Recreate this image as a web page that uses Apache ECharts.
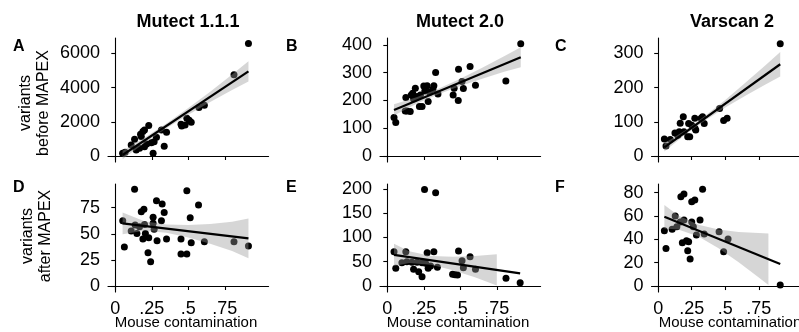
<!DOCTYPE html>
<html>
<head>
<meta charset="utf-8">
<script src="https://cdn.jsdelivr.net/npm/echarts@6/dist/echarts.min.js"></script>
<style>
  html, body { margin: 0; padding: 0; background: #fff; }
  #main { width: 799px; height: 332px; }
</style>
</head>
<body>
<div id="main"></div>
<script>
// panel titles and tick labels
var colTitles = ['Mutect 1.1.1', 'Mutect 2.0', 'Varscan 2'];
var panelLetters = ['A', 'B', 'C', 'D', 'E', 'F'];
var rowTitles = ['variants\nbefore MAPEX', 'variants\nafter MAPEX'];
var xTitle = 'Mouse contamination';
var xTicks = [0, 0.25, 0.5, 0.75];
var xTickText = ['0', '.25', '.5', '.75'];
var yTicksA = [0, 2000, 4000, 6000];
var yTicksB = [0, 100, 200, 300, 400];
var yTicksC = [0, 100, 200, 300];
var yTicksD = [0, 25, 50, 75];
var yTicksE = [0, 50, 100, 150, 200];
var yTicksF = [0, 20, 40, 60, 80];

// A: Mutect 1.1.1, before MAPEX
var aX = [0.05, 0.067, 0.109, 0.132, 0.143, 0.166, 0.173, 0.178, 0.189, 0.2, 0.2, 0.215, 0.229, 0.247, 0.259, 0.266, 0.282, 0.316, 0.335, 0.351, 0.45, 0.455, 0.478, 0.49, 0.506, 0.52, 0.573, 0.61, 0.813, 0.912];
var aY = [156, 215, 645, 977, 352, 449, 1270, 1133, 1427, 1524, 547, 700, 1778, 780, 156, 840, 1094, 1524, 567, 1388, 1857, 1760, 1818, 2208, 2091, 1974, 2834, 2970, 4749, 6566];
var aFitX = [0.05, 0.912];
var aFitY = [60, 4944];
var aBandX = [0.05, 0.2, 0.35, 0.5, 0.65, 0.8, 0.912];
var aBandLo = [-190, 760, 1620, 2410, 3160, 3860, 4354];
var aBandHi = [310, 1060, 1900, 2810, 3760, 4760, 5534];

// B: Mutect 2.0, before MAPEX
var bX = [0.046, 0.058, 0.123, 0.127, 0.134, 0.157, 0.164, 0.174, 0.18, 0.192, 0.204, 0.22, 0.227, 0.238, 0.25, 0.257, 0.273, 0.28, 0.29, 0.312, 0.319, 0.331, 0.347, 0.451, 0.458, 0.486, 0.488, 0.512, 0.521, 0.567, 0.604, 0.812, 0.914];
var bY = [139, 121, 162, 211, 162, 160, 220, 226, 205, 244, 214, 178, 220, 178, 252, 234, 253, 196, 230, 240, 253, 301, 223, 220, 244, 200, 312, 268, 243, 322, 255, 270, 404];
var bFitX = [0.046, 0.914];
var bFitY = [166, 356];
var bBandX = [0.046, 0.2, 0.35, 0.5, 0.65, 0.8, 0.914];
var bBandLo = [146, 188, 222.5, 252, 278, 303, 320];
var bBandHi = [186, 212, 242.5, 278, 318, 359, 392];

// C: Varscan 2, before MAPEX
var cX = [0.046, 0.058, 0.09, 0.125, 0.146, 0.157, 0.164, 0.187, 0.192, 0.22, 0.227, 0.235, 0.25, 0.273, 0.274, 0.28, 0.32, 0.331, 0.343, 0.458, 0.488, 0.514, 0.91];
var cY = [50, 29, 48, 67, 61, 71, 96, 115, 71, 56, 95, 56, 90, 110, 81, 76, 110, 115, 95, 139, 104, 110, 328];
var cFitX = [0.046, 0.91];
var cFitY = [25, 268];
var cBandX = [0.046, 0.2, 0.35, 0.5, 0.65, 0.8, 0.91];
var cBandLo = [13, 62.3, 103.4, 141.6, 175.7, 208.9, 232];
var cBandHi = [37, 74.3, 117.4, 163.6, 213.7, 264.9, 304];

// D: Mutect 1.1.1, after MAPEX
var dX = [0.051, 0.062, 0.109, 0.132, 0.136, 0.148, 0.166, 0.178, 0.189, 0.196, 0.2, 0.206, 0.224, 0.229, 0.242, 0.259, 0.259, 0.266, 0.282, 0.286, 0.316, 0.321, 0.335, 0.351, 0.45, 0.45, 0.49, 0.49, 0.513, 0.52, 0.57, 0.61, 0.813, 0.912];
var dY = [62.6, 37.3, 52.7, 92.6, 58.4, 50.4, 56.8, 71.2, 45, 73.4, 59, 50.4, 31.9, 46.3, 23.3, 65.8, 60, 54.3, 81.7, 43.4, 62.6, 78.5, 70.5, 45, 45, 30.6, 30.6, 91.3, 65.4, 41.5, 77.6, 42.4, 42.4, 38.3];
var dFitX = [0.05, 0.912];
var dFitY = [60, 45.6];
var dBandX = [0.05, 0.2, 0.35, 0.5, 0.65, 0.8, 0.912];
var dBandLo = [49.6, 53, 51, 46.5, 40.5, 33.5, 26.6];
var dBandHi = [70.4, 62, 59, 58.5, 59.5, 61.5, 64.6];

// E: Mutect 2.0, after MAPEX
var eX = [0.046, 0.058, 0.1, 0.127, 0.134, 0.169, 0.18, 0.204, 0.215, 0.238, 0.238, 0.255, 0.262, 0.273, 0.28, 0.296, 0.319, 0.331, 0.343, 0.447, 0.464, 0.481, 0.488, 0.512, 0.521, 0.567, 0.604, 0.813, 0.91];
var eY = [70.8, 36.4, 48, 70.8, 50, 48.8, 34.4, 48.8, 29.6, 48, 19.2, 199, 46.7, 68.7, 36.4, 41.2, 70.8, 192, 38.5, 24, 23, 22.7, 72.2, 52.2, 37.8, 60.5, 34.4, 15.8, 6.9];
var eFitX = [0.046, 0.91];
var eFitY = [64, 26];
var eBandX = [0.046, 0.15, 0.3, 0.45, 0.6, 0.75];
var eBandLo = [41, 47.4, 43.9, 32.3, 17.8, 1.2];
var eBandHi = [87, 71.4, 61.9, 60.3, 61.8, 65.2];

// F: Varscan 2, after MAPEX
var fX = [0.046, 0.058, 0.104, 0.127, 0.139, 0.164, 0.169, 0.18, 0.192, 0.192, 0.211, 0.22, 0.227, 0.238, 0.25, 0.25, 0.262, 0.273, 0.285, 0.312, 0.331, 0.343, 0.454, 0.488, 0.521, 0.91];
var fY = [47.4, 32.3, 48.6, 60, 50.9, 55, 76.6, 37.1, 78.9, 56.6, 38.9, 30.3, 38, 23.1, 72.3, 55, 50.9, 73.7, 43.7, 56.6, 82.9, 44.6, 46.6, 29.4, 40.3, 0.9];
var fFitX = [0.046, 0.91];
var fFitY = [59.4, 18.9];
var fBandX = [0.046, 0.15, 0.3, 0.45, 0.6, 0.75, 0.822];
var fBandLo = [49.4, 48.5, 42.5, 32.5, 20.4, 7.4, 1];
var fBandHi = [69.4, 60.5, 52.5, 48.5, 46.4, 45.4, 45];

var FONT = '"Liberation Sans", Arial, Helvetica, sans-serif';
var colLeft = [108, 380, 651.5];
var panelW = 160.6;
var rows = [{ top: 38, height: 124 }, { top: 184, height: 108 }];
var yRange = [[-350, 6894], [-21.6, 425], [-17.5, 344.7], [-5.75, 97.7], [-12.4, 210.3], [-5.1, 87.5]];
var yTicks = [yTicksA, yTicksB, yTicksC, yTicksD, yTicksE, yTicksF];

var grids = [], xAxes = [], yAxes = [], series = [];

function zip(xs, ys) {
    return xs.map(function (x, k) { return [x, ys[k]]; });
}

function addPanel(i, px, py, fitX, fitY, bandX, bandLo, bandHi) {
    var r = Math.floor(i / 3), c = i % 3;
    grids.push({ left: colLeft[c], top: rows[r].top, width: panelW, height: rows[r].height, containLabel: false });
    xAxes.push({
        type: 'value', gridIndex: i, min: -0.05, max: 1.05,
        axisLine: { lineStyle: { color: '#000', width: 1.1 } },
        axisTick: { show: true, length: 4, customValues: xTicks, lineStyle: { color: '#000', width: 1.1 } },
        axisLabel: {
            show: r === 1, customValues: xTicks, margin: 8,
            color: '#000', fontSize: 18, fontFamily: FONT,
            formatter: function (v) { return xTickText[xTicks.indexOf(v)]; }
        },
        splitLine: { show: false }
    });
    yAxes.push({
        type: 'value', gridIndex: i, min: yRange[i][0], max: yRange[i][1],
        axisLine: { show: true, lineStyle: { color: '#000', width: 1.1 } },
        axisTick: { show: true, length: 4, customValues: yTicks[i], lineStyle: { color: '#000', width: 1.1 } },
        axisLabel: {
            customValues: yTicks[i], margin: 8, color: '#000', fontSize: 18, fontFamily: FONT,
            formatter: function (v) { return String(v); }
        },
        splitLine: { show: false }
    });
    series.push({
        type: 'scatter', xAxisIndex: i, yAxisIndex: i, z: 2, silent: true,
        symbolSize: 7, itemStyle: { color: '#000', opacity: 1 },
        data: zip(px, py)
    });
    series.push({
        type: 'custom', xAxisIndex: i, yAxisIndex: i, z: 3, silent: true,
        data: [[bandX[0], bandLo[0]]],
        renderItem: function (params, api) {
            var pts = [];
            for (var k = 0; k < bandX.length; k++) pts.push(api.coord([bandX[k], bandHi[k]]));
            for (var j = bandX.length - 1; j >= 0; j--) pts.push(api.coord([bandX[j], bandLo[j]]));
            return { type: 'polygon', shape: { points: pts }, style: { fill: 'rgba(153,153,153,0.4)' } };
        }
    });
    series.push({
        type: 'line', xAxisIndex: i, yAxisIndex: i, z: 4, silent: true,
        showSymbol: false, lineStyle: { color: '#000', width: 2.2 },
        data: zip(fitX, fitY)
    });
}

addPanel(0, aX, aY, aFitX, aFitY, aBandX, aBandLo, aBandHi);
addPanel(1, bX, bY, bFitX, bFitY, bBandX, bBandLo, bBandHi);
addPanel(2, cX, cY, cFitX, cFitY, cBandX, cBandLo, cBandHi);
addPanel(3, dX, dY, dFitX, dFitY, dBandX, dBandLo, dBandHi);
addPanel(4, eX, eY, eFitX, eFitY, eBandX, eBandLo, eBandHi);
addPanel(5, fX, fY, fFitX, fFitY, fBandX, fBandLo, fBandHi);

function txt(s, x, y, font, align, rot, lh) {
    return {
        type: 'text', x: x, y: y, rotation: rot || 0, silent: true,
        style: {
            text: s, font: font, fill: '#000', lineHeight: lh || undefined,
            align: align, verticalAlign: 'middle',
            textAlign: align, textVerticalAlign: 'middle'
        }
    };
}

var graphics = [];
var titleX = [188, 460, 732];
colTitles.forEach(function (t, c) {
    graphics.push(txt(t, titleX[c], 22, 'bold 18px ' + FONT, 'center'));
    graphics.push(txt(xTitle, titleX[c] - 2, 323, '15px ' + FONT, 'center'));
});
var letterX = [13, 286, 555];
var letterY = [47, 188];
panelLetters.forEach(function (l, i) {
    graphics.push(txt(l, letterX[i % 3], letterY[Math.floor(i / 3)], 'bold 16px ' + FONT, 'left'));
});
graphics.push(txt(rowTitles[0], 35, 103, '16px ' + FONT, 'center', Math.PI / 2, 18));
graphics.push(txt(rowTitles[1], 37, 236, '16px ' + FONT, 'center', Math.PI / 2, 18));

var myChart = echarts.init(document.getElementById('main'), null, { renderer: 'canvas' });
myChart.setOption({
    animation: false,
    backgroundColor: '#fff',
    grid: grids,
    xAxis: xAxes,
    yAxis: yAxes,
    series: series,
    graphic: graphics
});
</script>
</body>
</html>
